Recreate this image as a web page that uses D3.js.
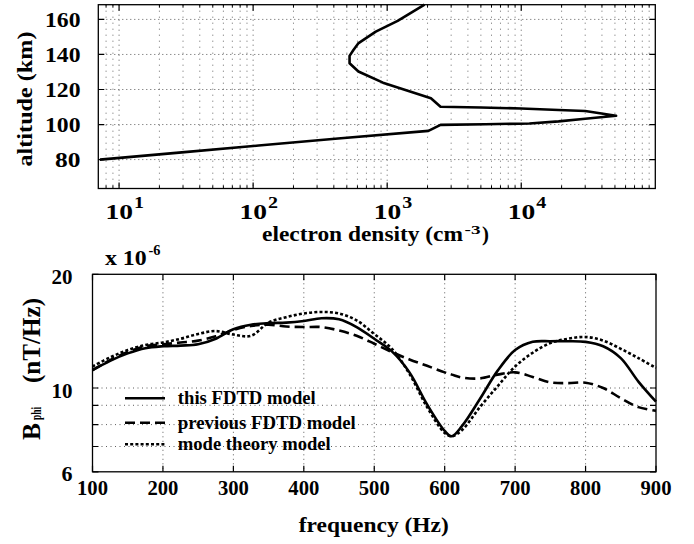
<!DOCTYPE html>
<html><head><meta charset="utf-8">
<script src="https://cdn.jsdelivr.net/npm/d3@7"></script>
<style>body{margin:0;background:#fff} svg{display:block}</style>
</head><body><svg id="c" width="694" height="544"></svg>
<script>
// ---------- top panel data: electron density profile ----------
const altitudeKm      = [80, 84, 88, 92, 96.4, 99.8, 100.2, 100.6, 101.8, 103.3, 105, 107.7, 108.3, 109.2, 109.7, 110.2, 115, 123.9, 130.3, 135, 139.2, 142.5, 146.3, 153, 159.2, 168.5];
const electronDensity = [7.2, 28, 110, 430, 2030, 2500, 5400, 11500, 19000, 30000, 51000, 30000, 19000, 10000, 5000, 2500, 2120, 930, 610, 524, 524, 560, 608, 822, 1197, 1900];
const altTicks = [80, 100, 120, 140, 160];
const densityExponents = [1, 2, 3, 4];

// ---------- bottom panel data: B_phi spectra (x 1e-6 nT/Hz) ----------
const frequencyHz = [100,125,150,175,200,225,250,275,300,325,350,375,400,425,450,475,500,525,550,575,600,610,625,650,675,700,725,750,775,800,825,850,875,900];
const thisFDTD    = [11.15,11.8,12.35,12.75,12.9,12.95,13.05,13.5,14.3,14.7,14.85,14.9,15.05,15.3,15.2,14.5,13.5,12.5,11.0,9.05,7.7,7.45,7.95,9.35,11.1,12.6,13.25,13.3,13.3,13.25,12.9,12.0,10.4,9.2];
const prevFDTD    = [11.15,11.85,12.45,12.9,13.05,13.2,13.35,13.7,14.25,14.6,14.7,14.55,14.5,14.5,14.2,13.75,13.1,12.45,11.9,11.45,11.0,10.85,10.65,10.6,10.85,11.0,10.7,10.35,10.3,10.33,10.0,9.4,8.9,8.7];
const modeTheory  = [11.4,12.05,12.6,13.0,13.2,13.5,13.9,14.15,13.85,13.75,14.9,15.4,15.75,15.9,15.75,15.1,13.9,12.7,10.9,8.9,7.6,7.45,7.75,8.9,10.1,11.4,12.4,13.15,13.5,13.65,13.35,12.7,12.0,11.3];
const freqTicks = [100,200,300,400,500,600,700,800,900];
const bTickLabels = [6, 10, 20];
const bGrid = [7, 8, 9, 10];
const legendLabels = ["this FDTD model", "previous FDTD model", "mode theory model"];

const FONT = '"Liberation Serif","Times New Roman",Times,serif';
const svg = d3.select('#c');

function txt(g, s, x, y, size, len, anchor) {
  const t = g.append('text').attr('x', x).attr('y', y)
    .attr('font-family', FONT).attr('font-weight', 'bold')
    .attr('font-size', size).attr('text-anchor', anchor || 'start')
    .attr('fill', '#000').text(s);
  if (len) t.attr('textLength', len).attr('lengthAdjust', 'spacingAndGlyphs');
  return t;
}

// ================= TOP PANEL =================
const xT = d3.scaleLog().domain([7, 1e5]).range([98.3, 655.3]);
const yT = d3.scaleLinear().domain([63.5, 168.4]).range([188.5, 4.7]);
const topG = svg.append('g');
const [tx0, tx1] = xT.range(), [ty1, ty0] = yT.range();

const minorX = [];
for (let e = 0; e <= 4; e++) for (let m = 2; m <= 9; m++) { const v = m * Math.pow(10, e); if (v > 7 && v < 1e5) minorX.push(v); }
const majorX = densityExponents.map(e => Math.pow(10, e));
topG.selectAll('.vmin').data(minorX).join('line')
  .attr('x1', d => xT(d)).attr('x2', d => xT(d)).attr('y1', ty0).attr('y2', ty1)
  .attr('stroke', '#444').attr('stroke-width', 0.8).attr('stroke-dasharray', '1,5');
topG.selectAll('.vmaj').data(majorX).join('line')
  .attr('x1', d => xT(d)).attr('x2', d => xT(d)).attr('y1', ty0).attr('y2', ty1)
  .attr('stroke', '#333').attr('stroke-width', 0.8).attr('stroke-dasharray', '1,4');
topG.selectAll('.hmaj').data(altTicks).join('line')
  .attr('x1', tx0).attr('x2', tx1).attr('y1', d => yT(d)).attr('y2', d => yT(d))
  .attr('stroke', '#333').attr('stroke-width', 0.8).attr('stroke-dasharray', '1,3');

topG.selectAll('.ytl').data(altTicks).join('path')
  .attr('d', d => `M${tx0},${yT(d)}h6M${tx1},${yT(d)}h-6`).attr('stroke', '#000').attr('stroke-width', 1.2);
topG.selectAll('.xtl').data(majorX).join('path')
  .attr('d', d => `M${xT(d)},${ty1}v-6M${xT(d)},${ty0}v6`).attr('stroke', '#000').attr('stroke-width', 1.2);
topG.selectAll('.xtm').data(minorX).join('path')
  .attr('d', d => `M${xT(d)},${ty1}v-3M${xT(d)},${ty0}v3`).attr('stroke', '#000').attr('stroke-width', 1);

const profile = altitudeKm.map((a, i) => [electronDensity[i], a]);
topG.append('path').datum(profile)
  .attr('d', d3.line().x(d => xT(d[0])).y(d => yT(d[1])))
  .attr('fill', 'none').attr('stroke', '#000').attr('stroke-width', 2.6).attr('stroke-linejoin', 'round');

topG.append('rect').attr('x', tx0).attr('y', ty0).attr('width', tx1 - tx0).attr('height', ty1 - ty0)
  .attr('fill', 'none').attr('stroke', '#000').attr('stroke-width', 1.3);

altTicks.forEach(d => txt(topG, String(d), 80.5, yT(d) + 7.5, 21, d >= 100 ? 35.5 : 25.5, 'end'));
densityExponents.forEach(e => {
  const x = xT(Math.pow(10, e));
  txt(topG, '10', x - 13.5, 218.5, 21, 27.5);
  txt(topG, String(e), x + 15, 208, 16, 10);
});
txt(topG, 'electron density (cm', 262, 240.5, 20, 201);
txt(topG, '-3', 464.5, 234, 13, 16);
txt(topG, ')', 482, 240.5, 20, 7);
const altG = topG.append('g').attr('transform', 'translate(31.5,99) rotate(-90)');
txt(altG, 'altitude (km)', 0, 0, 21, 135, 'middle');

// ================= BOTTOM PANEL =================
const xB = d3.scaleLinear().domain([100, 900]).range([92.5, 656]);
const yB = d3.scaleLog().domain([6, 20]).range([471.8, 274.3]);
const botG = svg.append('g');
const [bx0, bx1] = xB.range(), [by1, by0] = yB.range();

const innerF = freqTicks.slice(1, -1);
botG.selectAll('.vg').data(innerF).join('line')
  .attr('x1', d => xB(d)).attr('x2', d => xB(d)).attr('y1', by0).attr('y2', by1)
  .attr('stroke', '#333').attr('stroke-width', 0.8).attr('stroke-dasharray', '1,3.5');
botG.selectAll('.hg').data(bGrid).join('line')
  .attr('x1', bx0).attr('x2', bx1).attr('y1', d => yB(d)).attr('y2', d => yB(d))
  .attr('stroke', '#333').attr('stroke-width', 0.8).attr('stroke-dasharray', '1,3.5');

botG.selectAll('.bxt').data(freqTicks).join('path')
  .attr('d', d => `M${xB(d)},${by1}v-6M${xB(d)},${by0}v6`).attr('stroke', '#000').attr('stroke-width', 1.2);
botG.selectAll('.byt').data(bGrid.concat([20, 6])).join('path')
  .attr('d', d => `M${bx0},${yB(d)}h6M${bx1},${yB(d)}h-6`).attr('stroke', '#000').attr('stroke-width', 1.2);

const series = [
  { vals: thisFDTD, dash: null },
  { vals: prevFDTD, dash: '10,5' },
  { vals: modeTheory, dash: '3,2.2' }
];
const lineB = d3.line().x(d => xB(d[0])).y(d => yB(d[1])).curve(d3.curveCatmullRom.alpha(0.5));
series.forEach(s => {
  botG.append('path').datum(frequencyHz.map((f, i) => [f, s.vals[i]]))
    .attr('d', lineB).attr('fill', 'none').attr('stroke', '#000')
    .attr('stroke-width', 2.6).attr('stroke-dasharray', s.dash);
});

const legY = [398.3, 422.7, 444.3];
const legW = [138, 178, 153];
legendLabels.forEach((lab, i) => {
  botG.append('line').attr('x1', 125).attr('x2', 165).attr('y1', legY[i]).attr('y2', legY[i])
    .attr('stroke', '#000').attr('stroke-width', 2.6).attr('stroke-dasharray', series[i].dash);
  txt(botG, lab, 177.8, legY[i] + 6, 18, legW[i]);
});

botG.append('rect').attr('x', bx0).attr('y', by0).attr('width', bx1 - bx0).attr('height', by1 - by0)
  .attr('fill', 'none').attr('stroke', '#000').attr('stroke-width', 1.3);

freqTicks.forEach(d => txt(botG, String(d), xB(d), 495, 22, 31, 'middle'));
bTickLabels.forEach(d => txt(botG, String(d), 72.5, yB(d) + 9.5, 22, d >= 10 ? 21 : 11, 'end'));
txt(botG, 'x 10', 105, 265, 20, 41.7);
txt(botG, '-6', 148.5, 255, 14, 12);
txt(botG, 'frequency (Hz)', 373.8, 532, 22, 150, 'middle');
const bG = botG.append('g').attr('transform', 'translate(40,440) rotate(-90)');
txt(bG, 'B', 0, 0, 25, 17);
txt(bG, 'phi', 20, 1, 14, 13);
txt(bG, '(nT/Hz)', 57, 0, 25, 85);
</script></body></html>
